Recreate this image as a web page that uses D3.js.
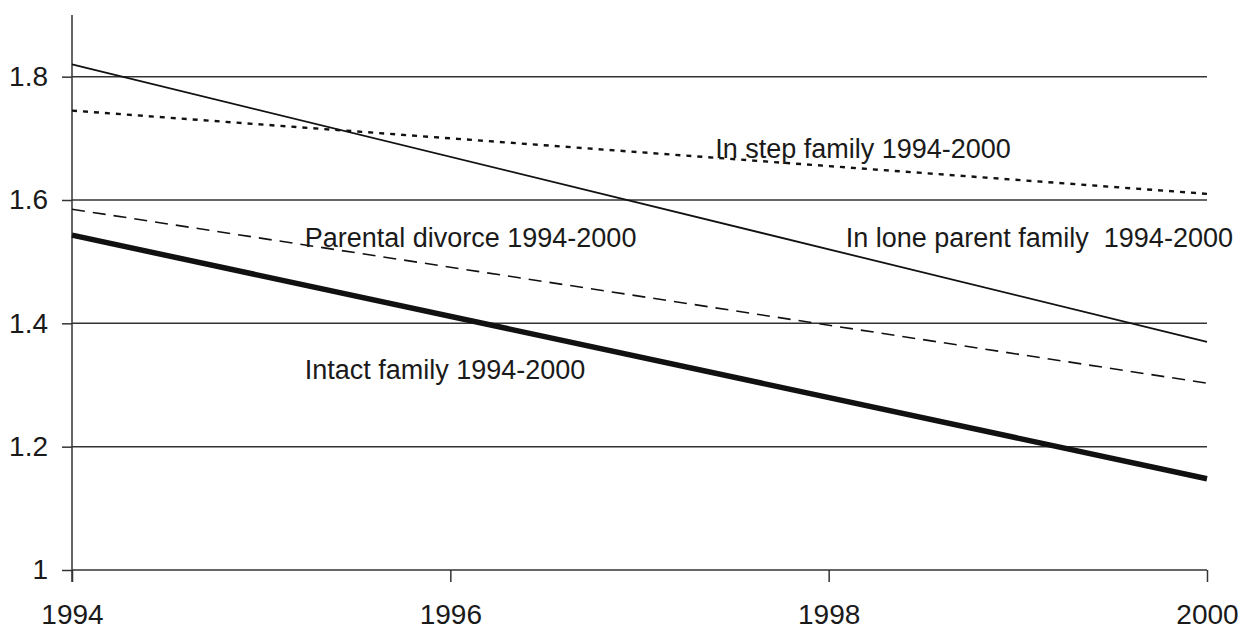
<!DOCTYPE html>
<html>
<head>
<meta charset="utf-8">
<script src="https://cdn.jsdelivr.net/npm/d3@7"></script>
<style>
  body { margin: 0; background: #fff; }
  svg { font-family: "Liberation Sans", Arial, sans-serif; }
</style>
</head>
<body>
<script>
// years on the x axis and the fitted values of each group
var years = [1994, 2000];
var loneParent = [1.82, 1.37];
var stepFamily = [1.745, 1.61];
var parentalDivorce = [1.585, 1.303];
var intactFamily = [1.543, 1.148];

var xTicks = [1994, 1996, 1998, 2000];
var yTicks = [1, 1.2, 1.4, 1.6, 1.8];

var labels = [
  {text: "In step family 1994-2000", year: 1997.40, value: 1.668},
  {text: "In lone parent family\u00a0 1994-2000", year: 1998.09, value: 1.523},
  {text: "Parental divorce 1994-2000", year: 1995.23, value: 1.523},
  {text: "Intact family 1994-2000", year: 1995.23, value: 1.31}
];

var width = 1245, height = 630;
var border = {top: 15, right: 38, bottom: 60, left: 72};

var svg = d3.select("body").append("svg")
  .attr("width", width)
  .attr("height", height);

var w = width - border.left - border.right;
var h = height - border.top - border.bottom;

var g = svg.append("g")
  .attr("transform", "translate(" + border.left + "," + border.top + ")");

var scaleX = d3.scaleLinear().domain([1994, 2000]).range([0, w]);
var scaleY = d3.scaleLinear().domain([1, 1.9]).range([h, 0]);

// horizontal grid lines
g.selectAll("line.grid")
  .data(yTicks)
  .enter().append("line")
  .attr("class", "grid")
  .attr("x1", 0)
  .attr("x2", w)
  .attr("y1", d => scaleY(d))
  .attr("y2", d => scaleY(d))
  .attr("stroke", "#333")
  .attr("stroke-width", 1.5);

// y axis
var yAxis = d3.axisLeft(scaleY).tickValues(yTicks).tickSize(10).tickPadding(14)
  .tickFormat(d3.format("~g"));
var gy = g.append("g").call(yAxis);
gy.select(".domain").attr("stroke", "#333").attr("stroke-width", 1.5)
  .attr("d", "M0," + (h + 12) + "V0");
gy.selectAll(".tick line").attr("stroke", "#333").attr("stroke-width", 1.5);
gy.selectAll("text").attr("font-size", 28).attr("fill", "#1a1a1a")
  .attr("font-family", "Liberation Sans, Arial, sans-serif");

// x axis
var xAxis = d3.axisBottom(scaleX).tickValues(xTicks).tickSize(12).tickPadding(22)
  .tickFormat(d3.format("d"));
var gx = g.append("g").attr("transform", "translate(0," + h + ")").call(xAxis);
gx.select(".domain").remove();
gx.selectAll(".tick line").attr("stroke", "#333").attr("stroke-width", 1.5);
gx.selectAll("text").attr("font-size", 28).attr("fill", "#1a1a1a")
  .attr("font-family", "Liberation Sans, Arial, sans-serif");

var series = [
  {values: loneParent, width: 1.8, dash: null},
  {values: stepFamily, width: 2.4, dash: "5,6"},
  {values: parentalDivorce, width: 1.6, dash: "13,8"},
  {values: intactFamily, width: 5.5, dash: null}
];

var line = d3.line()
  .x((d, i) => scaleX(years[i]))
  .y(d => scaleY(d));

g.selectAll("path.series")
  .data(series)
  .enter().append("path")
  .attr("class", "series")
  .attr("d", d => line(d.values))
  .attr("fill", "none")
  .attr("stroke", "#111")
  .attr("stroke-width", d => d.width)
  .attr("stroke-dasharray", d => d.dash);

// labels inside the plot
g.selectAll("text.label")
  .data(labels)
  .enter().append("text")
  .attr("class", "label")
  .attr("x", d => scaleX(d.year))
  .attr("y", d => scaleY(d.value))
  .attr("font-size", 27)
  .attr("fill", "#1a1a1a")
  .text(d => d.text);
</script>
</body>
</html>
